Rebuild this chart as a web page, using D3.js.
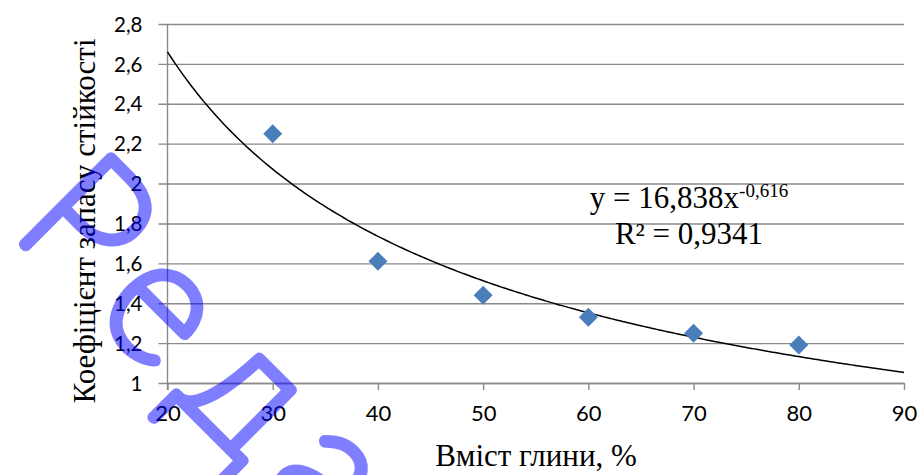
<!DOCTYPE html>
<html>
<head>
<meta charset="utf-8">
<script src="https://cdn.jsdelivr.net/npm/d3@7"></script>
<style>
  html, body { margin: 0; padding: 0; background: #fff; }
  svg { display: block; }
</style>
</head>
<body>
<svg id="chart" width="922" height="475"></svg>
<script>
// Clay content (%) and the measured stability factor
const clayContent = [30, 40, 50, 60, 70, 80];
const stabilityFactor = [2.25, 1.61, 1.44, 1.33, 1.25, 1.19];

// Axis ticks
const xTicks = [20, 30, 40, 50, 60, 70, 80, 90];
const yTicks = [1, 1.2, 1.4, 1.6, 1.8, 2, 2.2, 2.4, 2.6, 2.8];

// Power trend line y = a * x^b
const trendA = 16.838;
const trendB = -0.616;
const trendR2 = 0.9341;

const xTitle = "Вміст глини, %";
const yTitle = "Коефіцієнт запасу стійкості";
const watermarkText = "Редакція";

const svg = d3.select("#chart");
const fmt = v => String(v).replace(".", ",");

const x = d3.scaleLinear().domain([20, 90]).range([167.5, 904]);
const y = d3.scaleLinear().domain([1, 2.8]).range([383, 24]);

// Horizontal gridlines with short tick stubs on the left
const yAxis = d3.axisLeft(y).tickValues(yTicks).tickSize(-(x(90) - x(20))).tickSizeOuter(0)
  .tickFormat(fmt);
const gy = svg.append("g").attr("transform", `translate(${x(20)},0)`).call(yAxis);
gy.select(".domain").remove();
gy.selectAll(".tick line").attr("stroke", "#8a8a8a").attr("stroke-width", 1.4)
  .attr("x1", -9);
gy.selectAll(".tick text").attr("font-family", "Lato, 'Open Sans', sans-serif")
  .attr("font-size", 20.5).attr("fill", "#000").attr("x", -25).attr("dy", "0.35em");

// Bottom axis with downward ticks
const xAxis = d3.axisBottom(x).tickValues(xTicks).tickSize(7).tickSizeOuter(0).tickPadding(12);
const gx = svg.append("g").attr("transform", `translate(0,${y(1)})`).call(xAxis);
gx.select(".domain").attr("stroke", "#8a8a8a").attr("stroke-width", 1.4);
gx.selectAll(".tick line").attr("stroke", "#8a8a8a").attr("stroke-width", 1.4);
gx.selectAll(".tick text").attr("font-family", "Lato, 'Open Sans', sans-serif")
  .attr("font-size", 22).attr("fill", "#000").attr("dy", "0.85em");

// Vertical axis line
svg.append("line")
  .attr("x1", x(20)).attr("x2", x(20))
  .attr("y1", y(2.8)).attr("y2", y(1) + 7)
  .attr("stroke", "#8a8a8a").attr("stroke-width", 1.4);

// Trend line
const trendXs = d3.range(20, 90.01, 0.25);
const line = d3.line().x(d => x(d)).y(d => y(trendA * Math.pow(d, trendB)));
svg.append("path").datum(trendXs).attr("d", line)
  .attr("fill", "none").attr("stroke", "#000").attr("stroke-width", 1.5);

// Data markers (diamonds)
svg.selectAll("path.pt").data(clayContent).join("path")
  .attr("class", "pt")
  .attr("d", d3.symbol().type(d3.symbolSquare).size(180))
  .attr("transform", (d, i) => `translate(${x(d)},${y(stabilityFactor[i])}) rotate(45)`)
  .attr("fill", "#4a7ebb");

// Trend equation
const eq = svg.append("text").attr("x", 689).attr("y", 208)
  .attr("text-anchor", "middle")
  .attr("font-family", "'Liberation Serif', 'Times New Roman', serif")
  .attr("font-size", 31).attr("fill", "#000");
eq.append("tspan").text("y = " + fmt(trendA) + "x");
eq.append("tspan").attr("dy", -11).attr("font-size", 19).text(fmt(trendB));
svg.append("text").attr("x", 689).attr("y", 244)
  .attr("text-anchor", "middle")
  .attr("font-family", "'Liberation Serif', 'Times New Roman', serif")
  .attr("font-size", 31).attr("fill", "#000")
  .text("R² = " + fmt(trendR2));

// Axis titles
svg.append("text").attr("x", 536).attr("y", 466)
  .attr("text-anchor", "middle")
  .attr("font-family", "'Liberation Serif', 'Times New Roman', serif")
  .attr("font-size", 31).attr("fill", "#000").text(xTitle);
svg.append("text")
  .attr("transform", "translate(95,221) rotate(-90)")
  .attr("text-anchor", "middle")
  .attr("font-family", "'Liberation Serif', 'Times New Roman', serif")
  .attr("font-size", 31).attr("fill", "#000").text(yTitle);

// Semi-transparent diagonal watermark over the chart
svg.append("g").attr("opacity", 0.5)
  .append("text")
  .attr("transform", "translate(10,230) rotate(45)")
  .attr("font-family", "Lato, sans-serif")
  .attr("font-weight", 100)
  .attr("font-size", 175)
  .attr("letter-spacing", 25)
  .attr("fill", "#0000ff").attr("stroke", "#0000ff")
  .attr("stroke-width", 11).attr("stroke-linejoin", "round").attr("stroke-linecap", "round")
  .text(watermarkText);
</script>
</body>
</html>
